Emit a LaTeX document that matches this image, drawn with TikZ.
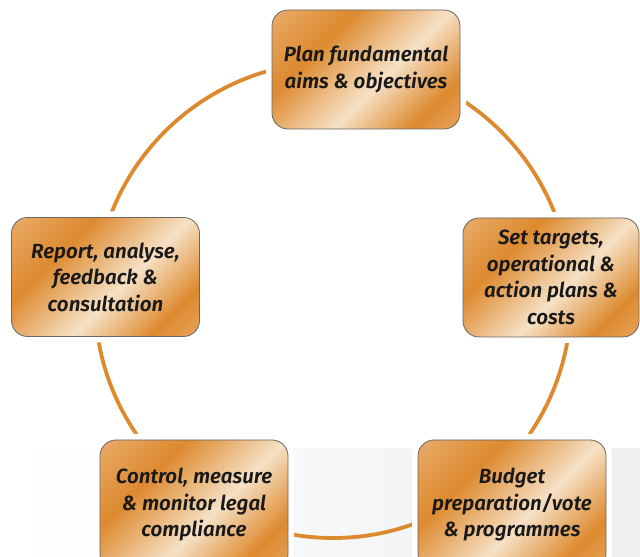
\documentclass[tikz,border=0pt]{standalone}
\usepackage{fontspec}
\setmainfont{Fira Sans}[ItalicFont={Fira Sans SemiBold Italic}]
\definecolor{cuOrange}{HTML}{DD8A2F}
\definecolor{cuLight}{HTML}{E8A965}
\definecolor{cuCream}{HTML}{F6E1C6}
\definecolor{bandGray}{HTML}{EEEFF1}
\pgfdeclarehorizontalshading{copper}{100bp}{color(0bp)=(cuLight); color(16bp)=(cuLight); color(34bp)=(cuOrange); color(56bp)=(cuCream); color(74bp)=(cuOrange); color(88bp)=(cuLight); color(100bp)=(cuLight)}
\tikzset{
every picture/.style={
line width=1pt
}}

\begin{document}
\begin{tikzpicture}[x=1bp, y=1bp,
block/.style = {rectangle, rounded corners=16bp, draw=black!60, line width=0.8bp,
  shading=copper, shading angle=-45, align=center, text=black!90,
  minimum width=188bp, minimum height=119bp, inner sep=0pt,
  font=\fontsize{20.5bp}{26.5bp}\selectfont\itshape,
  preaction={draw=white, line width=12bp}},
cycle/.style = {draw=cuOrange, line width=3.8bp}]
\useasboundingbox (0,0) rectangle (640,557);
\fill[left color=white, right color=bandGray] (13,0) rectangle (640,108);
\coordinate (hub) at (333,257);
\draw[cycle] (hub) circle[radius=238];
\node[block] at (366,487.5) (plan) {Plan fundamental\\aims \& objectives};
\node[block, minimum width=176bp] at (551,279.5) (targets) {Set targets,\\operational \&\\action plans \&\\costs};
\node[block, minimum height=130bp] at (512,52) (budget) {Budget\\preparation/vote\\\& programmes};
\node[block, minimum height=130bp] at (194,52) (control) {Control, measure\\\& monitor legal\\compliance};
\node[block] at (105.5,280) (report) {Report, analyse,\\feedback \&\\consultation};
% \draw[cycle] (plan) -- (targets);
\end{tikzpicture}
\end{document}
